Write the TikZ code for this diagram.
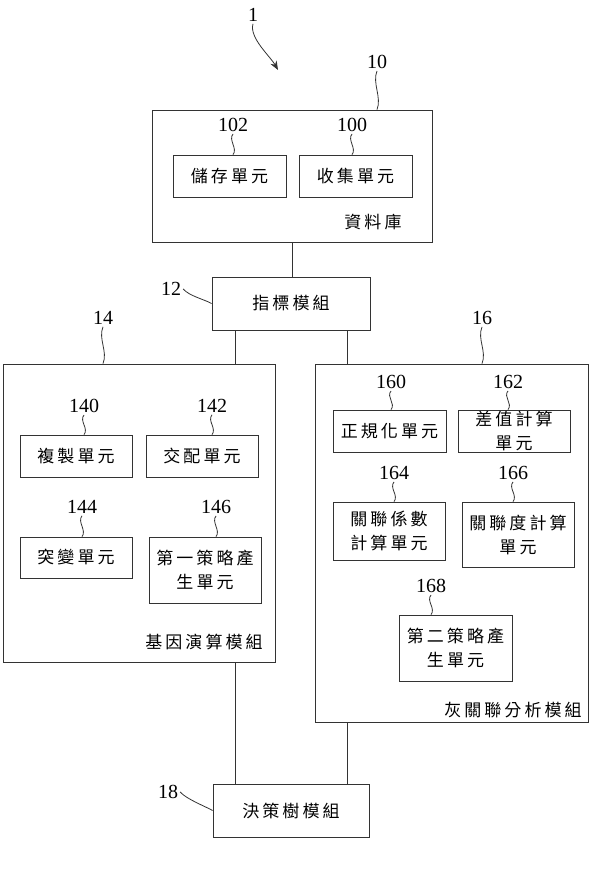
\documentclass[tikz,border=0pt]{standalone}
\usepackage{fontspec}
\setmainfont{Liberation Serif}
\newfontfamily\cjk[LetterSpace=18]{Noto Sans CJK TC}
\usetikzlibrary{arrows.meta}

\tikzset{
  frame/.style={draw=black!80, line width=0.8pt, inner sep=0pt},
  unit/.style={frame, align=center, font=\cjk\fontsize{17}{24}\selectfont},
  title/.style={inner sep=0pt, font=\cjk\fontsize{17}{20}\selectfont},
  tag/.style={inner sep=2pt, font=\fontsize{20}{20}\selectfont},
  link/.style={draw=black!80, line width=0.8pt},
}

\begin{document}
\begin{tikzpicture}[x=1pt,y=-1pt]
\useasboundingbox (0,0) rectangle (592,884);

% outer modules
\node[frame, minimum width=280, minimum height=132] (db) at (292,176) {};
\node[frame, minimum width=158, minimum height=53] (idx) at (291,303.5) {\cjk\fontsize{17}{20}\selectfont 指標模組};
\node[frame, minimum width=272, minimum height=298] (ga) at (139,513) {};
\node[frame, minimum width=273, minimum height=358] (gr) at (451.5,543) {};
\node[frame, minimum width=156, minimum height=53] (tree) at (291,810.5) {\cjk\fontsize{17}{20}\selectfont 決策樹模組};

% titles
\node[title] at (373,222) {資料庫};
\node[title] at (204,642) {基因演算模組};
\node[title] at (513,710) {灰關聯分析模組};

% units of the database
\node[unit, minimum width=113, minimum height=42] (u102) at (229.5,176) {儲存單元};
\node[unit, minimum width=113, minimum height=42] (u100) at (355.5,176) {收集單元};

% units of the genetic module
\node[unit, minimum width=112, minimum height=42] (u140) at (76,456) {複製單元};
\node[unit, minimum width=112, minimum height=42] (u142) at (202,456) {交配單元};
\node[unit, minimum width=112, minimum height=41] (u144) at (76,557.5) {突變單元};
\node[unit, minimum width=112, minimum height=66] (u146) at (205,570) {第一策略產\\生單元};

% units of the grey relational module
\node[unit, minimum width=113, minimum height=42] (u160) at (389.5,431) {正規化單元};
\node[unit, minimum width=112, minimum height=42] (u162) at (514,431) {差值計算\\單元};
\node[unit, minimum width=112, minimum height=58] (u164) at (389,531) {關聯係數\\計算單元};
\node[unit, minimum width=112, minimum height=65] (u166) at (518,534.5) {關聯度計算\\單元};
\node[unit, minimum width=113, minimum height=66] (u168) at (455.5,648) {第二策略產\\生單元};

% reference numerals
\node[tag] (l1) at (253,15) {1};
\node[tag] (l10) at (377,62) {10};
\node[tag] (l102) at (233,125) {102};
\node[tag] (l100) at (352,125) {100};
\node[tag] (l12) at (171,289) {12};
\node[tag] (l14) at (103,318) {14};
\node[tag] (l16) at (482,318) {16};
\node[tag] (l140) at (84,406) {140};
\node[tag] (l142) at (212,406) {142};
\node[tag] (l144) at (82,507) {144};
\node[tag] (l146) at (216,507) {146};
\node[tag] (l160) at (391,382) {160};
\node[tag] (l162) at (508,382) {162};
\node[tag] (l164) at (394,473) {164};
\node[tag] (l166) at (513,473) {166};
\node[tag] (l168) at (431,586) {168};
\node[tag] (l18) at (168,792) {18};

% arrow of the system
\coordinate (tip) at (278,70);
\draw[link, -{Stealth[length=9pt, width=7pt]}] (l1.south) .. controls +(-4,14) and +(-8,-14) .. (tip);

% leader lines
\draw[link] (l10.south) .. controls +(-5,12) and +(5,-12) .. (l10.south |- db.north);
\draw[link] (l14.south) .. controls +(-5,12) and +(5,-12) .. (l14.south |- ga.north);
\draw[link] (l16.south) .. controls +(-5,12) and +(5,-12) .. (l16.south |- gr.north);
\draw[link] (l12.east) .. controls +(6,7) and +(-7,-4) .. (idx.west);
\draw[link] (l18.east) .. controls +(6,7) and +(-7,-4) .. (tree.west);
\foreach \n in {102,100,140,142,144,146,160,162,164,166,168}
  \draw[link] (l\n.south) .. controls +(-5,6) and +(5,-6) .. (l\n.south |- u\n.north);

% connections
\draw[link] (db.south) -- (db.south |- idx.north);
\draw[link] ([xshift=-56pt]idx.south) -- ([xshift=-56pt]idx.south |- ga.north);
\draw[link] ([xshift=56pt]idx.south) -- ([xshift=56pt]idx.south |- gr.north);
\draw[link] ([xshift=-56pt]tree.north) -- ([xshift=-56pt]tree.north |- ga.south);
\draw[link] ([xshift=56pt]tree.north) -- ([xshift=56pt]tree.north |- gr.south);
\end{tikzpicture}
\end{document}
